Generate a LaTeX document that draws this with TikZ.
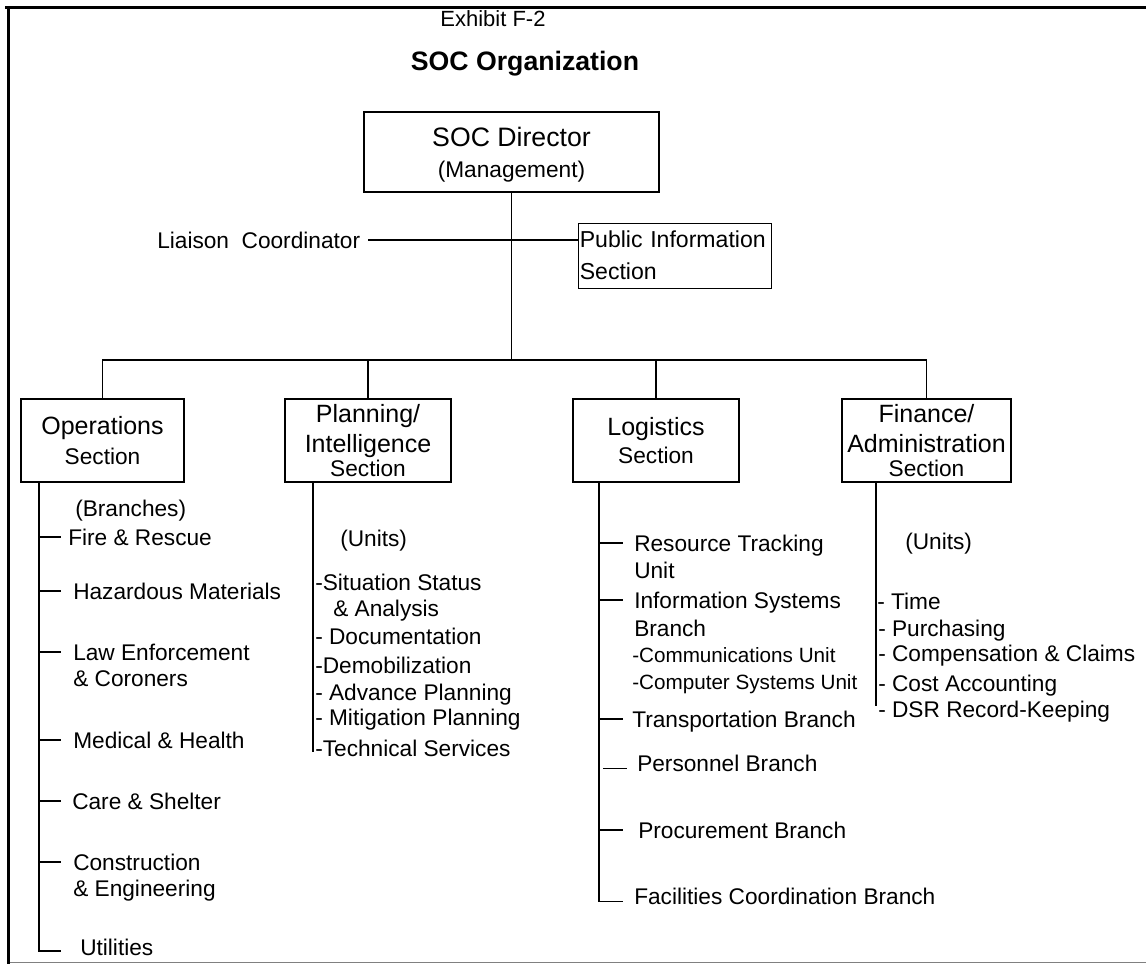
\documentclass[tikz,border=0pt]{standalone}
\usepackage{fontspec}
\setmainfont{Liberation Sans}
\newcommand\fItem{\fontsize{17}{19}\selectfont}
\newcommand\fSmall{\fontsize{15.5}{18}\selectfont}
\begin{document}
\begin{tikzpicture}[x=0.75pt,y=-0.75pt,
  box/.style={draw, line width=2pt, inner sep=0pt, align=center},
  item/.style={anchor=west, inner sep=0pt, font=\fItem, text height=12.2pt, text depth=0pt},
  smallitem/.style={anchor=west, inner sep=0pt, font=\fSmall, text height=11.1pt, text depth=0pt},
  conn/.style={line width=0.8pt},
  frame/.style={line width=2.25pt}]
\useasboundingbox (0,0) rectangle (1146,964);
% frame
\draw[frame] (5,7) -- (1146,7);
\draw[frame] (8,7) -- (8,964);
\draw[line width=0.75pt, gray] (10,962) -- (1146,962);

% titles
\node[inner sep=0pt, font=\fontsize{16.5}{19}\selectfont] (exh) at (493,19) {Exhibit F-2};
\node[inner sep=0pt, font=\bfseries\fontsize{20}{24}\selectfont] (ttl) at (525,64) {SOC Organization};

% director
\node[box, minimum width=221.25pt, minimum height=60pt, font=\fontsize{20}{23.7}\selectfont] (dir) at (511.5,152)
  {\rule{0pt}{18.3pt}SOC Director\\{\fontsize{17}{23.7}\selectfont (Management)}};

% liaison / public info
\node[item, font=\fontsize{17}{20}\selectfont, text height=12.2pt] (liai) at (157,240) {Liaison\ \ Coordinator};
\node[draw, line width=0.75pt, minimum width=144.75pt, minimum height=48.75pt, inner xsep=1.2pt, inner ysep=0pt,
      text width=142pt, align=left, font=\fontsize{17.3}{24}\selectfont] (pub) at (674.5,255.5)
  {Public Information\\Section};
\draw[conn] ([xshift=6]liai.east) -- (pub.west |- liai.east);

% sections
\node[box, minimum width=122.25pt, minimum height=62.25pt, font=\fontsize{18.75}{22}\selectfont] (ops) at (102.5,440.5)
  {Operations\\{\fontsize{17}{22}\selectfont Section}};
\node[box, minimum width=124.5pt, minimum height=62.25pt, font=\fontsize{18.75}{22.5}\selectfont] (plan) at (368,440.5)
  {Planning/\\Intelligence\\[-4.3pt]{\fontsize{17}{22.5}\selectfont Section}};
\node[box, minimum width=124.5pt, minimum height=62.25pt, font=\fontsize{18.75}{21.2}\selectfont] (logi) at (656,440.5)
  {Logistics\\{\fontsize{17}{21.2}\selectfont Section}};
\node[box, minimum width=126.75pt, minimum height=62.25pt, font=\fontsize{18.75}{22.5}\selectfont] (fin) at (926.5,440.5)
  {Finance/\\Administration\\[-4.3pt]{\fontsize{17}{22.5}\selectfont Section}};

% tree connectors
\coordinate (bus) at (0,360);
\draw[conn] (dir.south) -- (dir.south |- bus);
\draw[conn] (ops.north) |- (fin.north |- bus) -- (fin.north);
\draw[conn] (plan.north) -- (plan.north |- bus);
\draw[conn] (logi.north) -- (logi.north |- bus);

% Operations branches
\node[item] (brn) at (75,508) {(Branches)};
\node[item] (fire) at (68,537) {Fire \& Rescue};
\node[item] (haz) at (73,591) {Hazardous Materials};
\node[item] (law) at (73,652) {Law Enforcement};
\node[item] (law2) at (73,678) {\& Coroners};
\node[item] (med) at (73,740) {Medical \& Health};
\node[item] (care) at (72,801) {Care \& Shelter};
\node[item] (cons) at (73,862) {Construction};
\node[item] (cons2) at (73,888) {\& Engineering};
\node[item] (util) at (80,947) {Utilities};
\coordinate (opsT) at (39,482);
\draw[conn] (opsT) -- ([yshift=-3]opsT |- util.west) -- ++(22,0);
\foreach \n in {fire,haz,law,med,care,cons}
  \draw[conn] (opsT |- \n.west) -- ++(22,0);

% Planning units
\node[item] (punits) at (340,538) {(Units)};
\node[item] (sit) at (315,582) {-Situation Status};
\node[item] (sit2) at (333,608) {\& Analysis};
\node[item] (doc) at (315,636) {- Documentation};
\node[item] (demob) at (315,665) {-Demobilization};
\node[item] (adv) at (315,692) {- Advance Planning};
\node[item] (mit) at (315,717) {- Mitigation Planning};
\node[item] (tech) at (315,748) {-Technical Services};
\coordinate (planT) at (313,482);
\draw[conn] (planT) -- ([yshift=-3]planT |- tech.west);

% Logistics
\node[item] (res) at (634,543) {Resource Tracking};
\node[item] (res2) at (634,570) {Unit};
\node[item] (info) at (634,600) {Information Systems};
\node[item] (info2) at (634,628) {Branch};
\node[smallitem] (comm) at (632,655) {-Communications Unit};
\node[smallitem] (comp) at (632,682) {-Computer Systems Unit};
\node[item] (trans) at (632,719) {Transportation Branch};
\node[item] (pers) at (637,763) {Personnel Branch};
\node[item] (proc) at (638,830) {Procurement Branch};
\node[item] (fac) at (634,896) {Facilities Coordination Branch};
\coordinate (logT) at (599,482);
\draw[conn] (logT) -- ([yshift=-4]logT |- fac.west) -- ++(24,0);
\foreach \n in {res,info,trans,proc}
  \draw[conn] (logT |- \n.west) -- ++(24,0);
\draw[conn] ([yshift=-4,xshift=3]logT |- pers.west) -- ++(24,0);

% Finance
\node[item] (funits) at (905,541) {(Units)};
\node[item] (time) at (877,601) {- Time};
\node[item] (purch) at (878,628) {- Purchasing};
\node[item] (compn) at (878,653) {- Compensation \& Claims};
\node[item] (cost) at (878,683) {- Cost Accounting};
\node[item] (dsr) at (878,709) {- DSR Record-Keeping};
\coordinate (finT) at (876,482);
\draw[conn] (finT) -- ([yshift=2]finT |- dsr.west);
\end{tikzpicture}
\end{document}
